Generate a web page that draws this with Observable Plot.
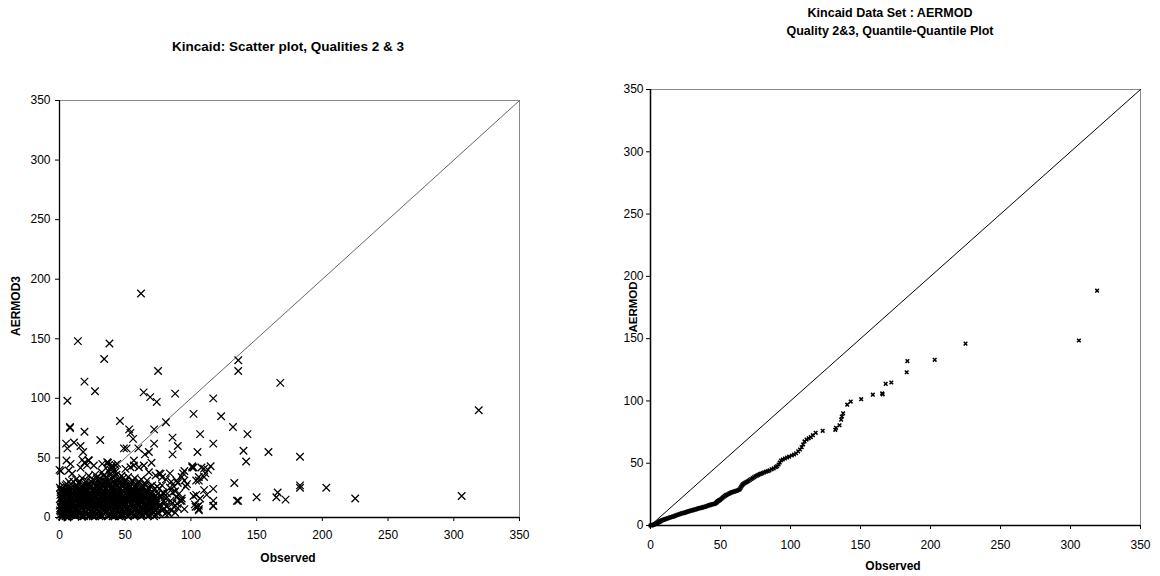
<!DOCTYPE html>
<html>
<head>
<meta charset="utf-8">
<script src="https://cdn.jsdelivr.net/npm/d3@7"></script>
<script src="https://cdn.jsdelivr.net/npm/@observablehq/plot@0.6"></script>
<style>
  html, body { margin: 0; padding: 0; background: #fff; }
  #wrap { position: relative; width: 1160px; height: 576px; overflow: hidden; font-family: "Liberation Sans", Arial, sans-serif; color: #000; }
  .lbl { position: absolute; white-space: nowrap; font-weight: bold; transform: translate(-50%, -50%); }
  .rot { transform: translate(-50%, -50%) rotate(-90deg); }
  .chart { position: absolute; }
</style>
</head>
<body>
<div id="wrap"></div>
<script>
// ---------------- data ----------------
const tickValues = [0, 50, 100, 150, 200, 250, 300, 350];
const diagonal = [0, 350];

// Left chart: Observed vs AERMOD3 (isolated points)
const scatterSparse = [
  [62,188],[14,148],[38,146],[34,133],[136,132],[136,123],[75,123],[19,114],[27,106],[168,113],
  [6,98],[64,105],[69,101],[74,97],[88,104],[117,100],[102,87],[123,85],[132,76],[143,70],
  [107,70],[117,62],[140,56],[142,47],[159,55],[183,51],[105,55],[86,67],[90,60],[86,53],
  [81,80],[72,74],[72,62],[46,81],[53,74],[54,71],[56,66],[49,58],[51,58],[60,58],
  [65,53],[68,55],[70,46],[31,65],[19,72],[8,76],[8,75],[5,62],[6,58],[11,63],[16,60],
  [18,55],[22,48],[19,46],[21,44],[37,46],[133,29],[136,14],[135,14],[150,17],[166,21],
  [165,17],[172,15],[183,27],[183,25],[203,25],[225,16],[306,18],[319,90],[117,24],[117,10],
  [117,14],[110,23],[112,19],[107,16],[105,9],[106,10],[106,7],[103,11],[102,18],[104,19],
  [95,7],[93,16],[92,14],[96,26],[97,28],[95,31],[93,34],[102,42],[101,42],[104,31],
  [106,31],[106,34],[110,34],[108,42],[113,40],[110,41],[89,31],[90,29],[87,26],[86,21],
  [82,20],[85,30],[101,43],[115,43],[111,37],[95,39],[94,37],[84,37],[76,37],[81,32],
  [103.5,9],[106,6],[117,9.5],[93,14],[89.5,11.5],[87,9],[84.5,14],[79,20],[81,16],[77,17],
  [73,14],[76,9],[79,7],[0,40],[1,39],
  [7,39.5],[9.6,36.7],[16,41.7],[5.3,47.8],[8.4,45],[17.3,48.4],[22.3,47.8],[26.1,43.6],[32.5,45],[36.3,46.4],
  [40.1,43.6],[43.9,45],[50.2,40.8],[54,42.2],[56.6,43.6],[60.4,42.2],[64.2,43.6],[68,38],[73.1,35.2],[76.9,36.6],
  [78.1,33.8],[56.6,47.8],[83,3],[85,6],[88,4],[90,8],[84,25],[88,22],[91,20],[86,12],[89,17]
];

// Left chart: dense cluster of low values
const scatterCluster = [
  [0.5,2],[1,8],[1.5,14],[2,20],[0.3,25],[2.5,4],[3,11],[3.5,17],[4,23],[4.5,1],[1,5],[2,12],[3,18],[4,7],[0.8,16],[2.2,0.5],[3.6,3],[4.8,13],[1.7,22],[3.2,26],[4.2,19],[0.2,10],[2.8,9],[4.6,27],
  [5.2,3],[6,10],[6.8,17],[7.5,24],[8.2,6],[9,13],[9.6,21],[5.5,28],[7,1],[8,15],[9.3,2],[6.3,6],[7.7,11],[8.8,19],[5.8,15],[9.8,8],[6.5,22],[8.5,28],[7.2,30],[9.1,25],[5,20],[6.1,0],[7.9,4],
  [10.3,4],[11,12],[11.8,19],[12.5,26],[13.2,8],[14,15],[14.7,22],[10.6,30],[12,1],[13.5,2],[11.4,7],[12.8,14],[14.3,29],[10.8,23],[13.7,18],[14.9,5],[11.6,16],[12.2,10],[13,24],[10.1,17],[14.5,11],[12.6,32],
  [15.3,3],[16,11],[16.8,18],[17.5,25],[18.2,6],[19,14],[19.7,21],[15.6,30],[17,0.5],[18.6,1],[16.4,8],[17.8,15],[19.3,28],[15.8,22],[18.7,19],[19.9,9],[16.6,13],[17.2,33],[18,27],[15.1,16],[19.5,4],[16.2,26],
  [20.3,5],[21,12],[21.8,20],[22.5,27],[23.2,7],[24,16],[24.7,23],[20.6,31],[22,1],[23.6,2],[21.4,9],[22.8,14],[24.3,30],[20.8,24],[23.7,19],[24.9,11],[21.6,17],[22.2,35],[23,25],[20.1,18],[24.5,4],[21.2,28],[23.4,10],
  [25.3,3],[26,11],[26.8,19],[27.5,26],[28.2,7],[29,15],[29.7,22],[25.6,32],[27,1],[28.6,2],[26.4,9],[27.8,14],[29.3,30],[25.8,23],[28.7,18],[29.9,10],[26.6,17],[27.2,36],[28,27],[25.1,14],[29.5,5],[26.2,28],[28.4,33],
  [30.3,5],[31,12],[31.8,21],[32.5,28],[33.2,8],[34,16],[34.7,24],[30.6,33],[32,1],[33.6,3],[31.4,10],[32.8,15],[34.3,31],[30.8,25],[33.7,20],[34.9,12],[31.6,18],[32.2,38],[33,27],[30.1,16],[34.5,6],[31.2,30],[33.4,35],
  [35.3,4],[36,13],[36.8,22],[37.5,30],[38.2,9],[39,17],[39.7,26],[35.6,34],[37,1],[38.6,2],[36.4,10],[37.8,16],[39.3,33],[35.8,25],[38.7,21],[39.9,12],[36.6,19],[37.2,39],[38,28],[35.1,17],[39.5,6],[36.2,29],[38.4,36],[39.2,42],[37.6,44],[38.8,40],
  [40.3,5],[41,13],[41.8,21],[42.5,29],[43.2,8],[44,17],[44.7,25],[40.6,34],[42,1],[43.6,3],[41.4,10],[42.8,15],[44.3,32],[40.8,26],[43.7,20],[44.9,11],[41.6,18],[42.2,38],[43,27],[40.1,18],[44.5,6],[41.2,30],[43.4,36],[40.5,42],[42.7,44],[41.9,40],
  [45.3,4],[46,12],[46.8,20],[47.5,28],[48.2,7],[49,16],[49.7,24],[45.6,32],[47,1],[48.6,2],[46.4,9],[47.8,14],[49.3,30],[45.8,25],[48.7,19],[49.9,11],[46.6,17],[47.2,35],[48,26],[45.1,18],[49.5,5],[46.2,29],[48.4,33],
  [50.3,3],[51,11],[51.8,19],[52.5,27],[53.2,6],[54,15],[54.7,22],[50.6,31],[52,1],[53.6,2],[51.4,8],[52.8,13],[54.3,29],[50.8,24],[53.7,18],[54.9,10],[51.6,16],[52.2,34],[53,25],[50.1,17],[54.5,4],[51.2,28],
  [55.3,4],[56,12],[56.8,19],[57.5,27],[58.2,7],[59,15],[59.7,22],[55.6,31],[57,1],[58.6,2],[56.4,9],[57.8,14],[59.3,29],[55.8,24],[58.7,18],[59.9,10],[56.6,16],[57.2,33],[58,25],[55.1,17],[59.5,5],
  [60.3,3],[61,11],[61.8,18],[62.5,26],[63.2,6],[64,14],[64.7,21],[60.6,30],[62,1],[63.6,2],[61.4,8],[62.8,13],[64.3,28],[60.8,23],[63.7,17],[64.9,9],[61.6,15],[62.2,32],[63,24],
  [65.3,4],[66,11],[66.8,18],[67.5,25],[68.2,6],[69,13],[69.7,20],[65.6,28],[67,1],[68.6,2],[66.4,8],[67.8,15],[69.3,26],[65.8,22],[68.7,17],[69.9,9],[66.6,31],
  [70.3,3],[71,10],[71.8,17],[72.5,24],[73.2,6],[74,13],[74.7,20],[70.6,27],[72,1],[73.6,2],[71.4,8],[72.8,15],[74.3,26],[70.8,21],[73.7,11],
  [75.5,4],[76.5,11],[77.5,18],[78.5,6],[79.5,14],[80.5,3],[81.5,9],[76,24],[78,27],[79,21],[80,12],[82,5]
];

// Left chart: further low-value points filling the dense core
const scatterCore = [
  [1.2,3],[2.6,15],[3.8,9],[0.6,19],[4.4,15],[1.4,11],[3.3,6],[2.4,24],
  [5.6,9],[6.6,13],[7.4,7],[8.4,10],[9.4,17],[5.3,12],[6.9,26],[8.9,3],
  [10.5,9],[11.3,3],[12.4,17],[13.4,12],[14.2,7],[11.9,22],[13.9,26],[10.9,14],
  [15.5,9],[16.3,4],[17.4,11],[18.4,13],[19.2,17],[16.9,22],[18.9,24],[15.9,19],
  [20.5,15],[21.3,3],[22.4,7],[23.4,21],[24.2,13],[21.9,23],[23.9,27],[20.9,10],
  [25.5,7],[26.3,13],[27.4,9],[28.4,21],[29.2,12],[26.9,24],[28.9,26],[25.9,18],
  [30.5,9],[31.3,3],[32.4,12],[33.4,18],[34.2,21],[31.9,25],[33.9,29],[30.9,20],
  [35.5,12],[36.3,6],[37.4,14],[38.4,19],[39.2,24],[36.9,27],[38.9,31],[35.9,21],
  [40.5,9],[41.3,3],[42.4,12],[43.4,23],[44.2,14],[41.9,25],[43.9,30],[40.9,21],
  [45.5,9],[46.3,3],[47.4,11],[48.4,22],[49.2,13],[46.9,24],[48.9,28],[45.9,15],
  [50.5,7],[51.3,14],[52.4,9],[53.4,21],[54.2,12],[51.9,23],[53.9,27],[50.9,20],
  [55.5,8],[56.3,14],[57.4,10],[58.4,21],[59.2,12],[56.9,23],[58.9,27],[55.9,20],
  [60.5,6],[61.3,13],[62.4,9],[63.4,20],[64.2,11],[61.9,22],[63.9,26],[60.9,17],
  [65.5,7],[66.3,14],[67.4,10],[68.4,20],[69.2,12],[66.9,22],
  [70.5,6],[71.3,13],[72.4,9],[73.4,18],[74.2,4],
  [0.4,6],[1.8,1],[2.9,13],[4.1,21],[0.9,23],[3.4,20],[1.6,17],[4.7,9],
  [5.4,6],[6.4,19],[7.1,14],[8.1,22],[9.2,11],[5.9,1],[7.8,18],[9.7,5],
  [10.2,11],[11.1,20],[11.7,6],[12.9,21],[13.8,4],[14.6,17],[10.4,2],[12.3,13],
  [15.2,13],[16.1,24],[16.7,2],[17.9,20],[18.8,9],[19.6,12],[15.4,6],[17.3,17],
  [20.2,2],[21.1,22],[21.7,14],[22.9,18],[23.8,5],[24.6,19],[20.4,13],[22.3,11],
  [25.2,10],[26.1,21],[26.7,4],[27.9,17],[28.8,14],[29.6,19],[25.4,1],[27.3,12],
  [30.2,14],[31.1,23],[31.7,7],[32.9,10],[33.8,14],[34.6,18],[30.4,1],[32.3,19],
  [35.2,9],[36.1,24],[36.7,2],[37.9,11],[38.8,14],[39.6,20],[35.4,19],[37.3,7],
  [40.2,13],[41.1,23],[41.7,6],[42.9,19],[43.8,10],[44.6,21],[40.4,1],[42.3,17],
  [45.2,13],[46.1,21],[46.7,6],[47.9,18],[48.8,10],[49.6,20],[45.4,1],[47.3,16],
  [50.2,12],[51.1,2],[51.7,22],[52.9,17],[53.8,4],[54.6,19],[50.4,15],[52.3,5],
  [55.2,11],[56.1,2],[56.7,22],[57.9,17],[58.8,4],[59.6,18],[55.4,15],[57.3,6],
  [60.2,10],[61.1,20],[61.7,4],[62.9,16],[63.8,8],[64.6,18],[60.4,14],[62.3,3],
  [65.2,10],[66.1,20],[66.7,4],[67.9,13],[68.8,9],[69.6,16],[65.4,16],
  [70.2,12],[71.1,19],[71.7,4],[72.9,11],[73.8,16],[74.6,8]
];

// Right chart: quantile pairs (Observed, AERMOD)
const qqPoints = [
  [0,0],[0.5,0],[1,0.2],[1.5,0.4],[2,0.6],[2.5,0.8],[3,1],[3.5,1.3],[4,1.6],[4.5,1.8],[5,2.1],
  [5.6,2.5],[6.2,2.9],[6.8,3.3],[7.4,3.7],[8,4],[8.6,4.3],[9.2,4.6],[9.8,4.8],
  [10.5,5.1],[11.2,5.4],[12,5.7],[12.8,6],[13.6,6.3],[14.4,6.6],[15.2,6.8],[16,7.1],[16.8,7.4],[17.6,7.8],[18.4,8.2],[19.2,8.5],[20,8.8],
  [20.8,9.1],[21.6,9.4],[22.4,9.7],[23.2,9.9],[24,10.2],[24.8,10.5],[25.6,10.8],[26.4,11.1],[27.2,11.4],[28,11.6],[28.8,11.9],[29.6,12.1],
  [30.4,12.4],[31.2,12.7],[32,12.9],[32.8,13.2],[33.6,13.5],[34.4,13.7],[35.2,13.9],[36,14.2],[36.8,14.4],[37.6,14.7],[38.4,15],[39.2,15.2],[40,15.5],
  [40.8,15.8],[41.6,16.1],[42.4,16.4],[43.2,16.7],[44,17],[44.8,17.2],[45.6,17.4],[46.4,17.7],[47,18.3],[47.6,19],[48.2,19.6],[48.8,20],[49.4,20.4],[50,20.9],
  [50.8,21.6],[51.6,22.4],[52.4,23.1],[53.2,23.8],[54,24.4],[54.8,24.9],[55.6,25.3],[56.4,25.8],[57.2,26.2],[58,26.6],[58.8,26.9],[59.6,27.2],
  [60.4,27.5],[61.2,27.8],[62,28.1],[62.8,28.5],[63.6,29],[64.2,30],[64.8,31.2],[65.4,32.2],[66,33],[66.8,33.7],[67.6,34.3],[68.4,34.8],[69.2,35.3],[70,35.8],
  [71,36.6],[72,37.3],[73,38],[74,38.8],[75,39.5],[76,40],[77,40.6],[78,41.2],[79,41.6],[80,42],
  [81.2,42.6],[82.5,43.2],[83.8,43.6],[85,44.2],[86.5,45.1],[88,45.8],[89.5,46.8],[90.5,47.6],[91.5,49],[92.3,50.5],[93.2,52.2],[94.5,53],[96,53.8],[97.5,54.6],
  [99,55.3],[101,56.2],[102.5,57],[104,58],[105.5,59.5],[106.8,61],[108,62.8],[109,65],[110,67.5],[111.5,69],[113,70],[114.5,71],[116,72.5],[118,74.4],[123,76],
  [132,76.8],[132.5,78.4],[135,80.5],[136.2,85],[136.7,87.5],[137.6,90],[140.5,97],[143,99.5],[150.5,101.4],[158.8,105],[165.5,106],[165.8,105.3],
  [168,113.7],[172,114.8],[183,123],[183.5,132],[203,133],[225,146],[306,148.5],[319,188.5]
];

// ---------------- layout ----------------
const wrap = document.getElementById("wrap");
function label(text, cx, cy, size, rotate) {
  const d = document.createElement("div");
  d.className = "lbl" + (rotate ? " rot" : "");
  d.style.left = cx + "px";
  d.style.top = cy + "px";
  d.style.fontSize = size + "px";
  d.textContent = text;
  wrap.appendChild(d);
}
function place(svg, left, top) {
  const d = document.createElement("div");
  d.className = "chart";
  d.style.left = left + "px";
  d.style.top = top + "px";
  d.appendChild(svg);
  wrap.appendChild(d);
}
const baseStyle = { fontFamily: "'Liberation Sans', Arial, sans-serif", fontSize: "12px", color: "#000", background: "transparent", overflow: "visible" };

// ---------------- left chart ----------------
const leftData = scatterSparse.concat(scatterCluster, scatterCore).map(([o, p]) => ({ obs: o, pred: p }));
const left = Plot.plot({
  width: 580, height: 510,
  marginLeft: 59, marginRight: 61, marginTop: 40, marginBottom: 53,
  style: baseStyle,
  x: { domain: [0, 350], label: null },
  y: { domain: [0, 350], label: null },
  marks: [
    Plot.frame({ stroke: "#8a8a8a", strokeWidth: 1 }),
    Plot.line(diagonal, { x: d => d, y: d => d, stroke: "#666", strokeWidth: 1 }),
    Plot.dot(leftData, { x: "obs", y: "pred", symbol: "times", r: 3.5, stroke: "#000", strokeWidth: 1.25 }),
    Plot.axisX({ ticks: tickValues, tickSize: 4, tickPadding: 9, label: null, tickFormat: d => d }),
    Plot.axisY({ ticks: tickValues, tickSize: 4, tickPadding: 5, label: null, tickFormat: d => d }),
    Plot.ruleX([0], { stroke: "#000", strokeWidth: 1.3 }),
    Plot.ruleY([0], { stroke: "#000", strokeWidth: 1.3 })
  ]
});
place(left, 0, 60);
label("Kincaid: Scatter plot, Qualities 2 & 3", 288, 46, 13.5, false);
label("Observed", 288, 558, 12, false);
label("AERMOD3", 16, 306, 12, true);

// ---------------- right chart ----------------
const rightData = qqPoints.map(([o, p]) => ({ obs: o, pred: p }));
const right = Plot.plot({
  width: 560, height: 526,
  marginLeft: 50, marginRight: 20, marginTop: 39, marginBottom: 51,
  style: baseStyle,
  x: { domain: [0, 350], label: null },
  y: { domain: [0, 350], label: null },
  marks: [
    Plot.frame({ stroke: "#8a8a8a", strokeWidth: 1 }),
    Plot.line(diagonal, { x: d => d, y: d => d, stroke: "#000", strokeWidth: 1 }),
    Plot.dot(rightData, { x: "obs", y: "pred", symbol: "times", r: 1.8, stroke: "#000", strokeWidth: 1.5 }),
    Plot.axisX({ ticks: tickValues, tickSize: 4, tickPadding: 11, label: null, tickFormat: d => d }),
    Plot.axisY({ ticks: tickValues, tickSize: 4, tickPadding: 3, label: null, tickFormat: d => d }),
    Plot.ruleX([0], { stroke: "#000", strokeWidth: 1.5 }),
    Plot.ruleY([0], { stroke: "#000", strokeWidth: 1.5 })
  ]
});
place(right, 600, 50);
label("Kincaid Data Set : AERMOD", 890, 13, 12.5, false);
label("Quality 2&3, Quantile-Quantile Plot", 890, 31, 12.5, false);
label("Observed", 893, 566, 12, false);
label("AERMOD", 633, 307, 11.5, true);
</script>
</body>
</html>
